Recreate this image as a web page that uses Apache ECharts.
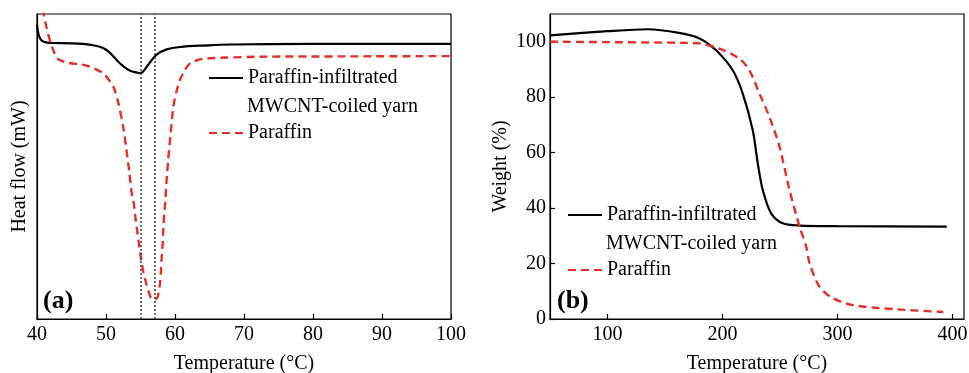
<!DOCTYPE html>
<html>
<head>
<meta charset="utf-8">
<script src="https://cdn.jsdelivr.net/npm/echarts@6/dist/echarts.min.js"></script>
<style>
  html, body { margin: 0; padding: 0; background: #fff; }
  #chart { width: 969px; height: 373px; }
</style>
</head>
<body>
<div id="chart"></div>
<script>
// (a) DSC 曲线
const dscYarn = [
  [40, 96.4], [40.2, 93.5], [40.5, 91.8], [41, 90.9], [42, 90.5], [45, 90.4], [47, 90.1],
  [48.5, 89.6], [49.5, 88.9], [50.5, 87.4], [51.5, 85.0], [52.5, 82.9], [53.5, 81.4], [54.5, 80.8], [55, 80.6],
  [55.9, 82.7], [57.3, 86.6], [58.8, 88.4], [61.2, 89.3], [63.6, 89.6], [68, 90.0], [80, 90.2], [100, 90.2]
]
const dscParaffin = [
  [40.7, 106], [41.0, 99.5], [41.4, 95.4], [42.0, 90.4], [42.9, 85.5], [44.3, 84.1], [46.5, 83.4],
  [47.7, 82.7], [49.6, 80.6], [51.06, 76.2], [51.8, 70.7], [52.5, 63.0], [52.9, 56.5], [53.4, 47.8],
  [53.72, 41.2], [54.06, 37.4], [54.3, 32.5], [54.54, 28.6], [54.83, 23.7], [55.07, 19.9], [55.4, 15.5],
  [55.9, 11.1], [56.48, 7.0], [56.86, 6.2], [57.2, 6.5], [57.49, 7.3], [57.83, 11.7], [57.97, 16.1],
  [58.07, 20.4], [58.22, 24.8], [58.3, 29.2], [58.45, 34.7], [58.6, 38.5], [58.7, 42.9], [58.84, 47.2],
  [59.0, 52], [59.28, 58.7], [59.75, 69.6], [60.2, 74.5], [60.72, 78.4], [61.4, 81.5], [62.17, 83.8],
  [63.4, 85.0], [65.07, 85.5], [72.3, 86.0], [85, 86.1], [100, 86.2]
]
const dscMarks = [55, 57] // 峰值位置虚线

// (b) TGA 曲线
const tgaYarn = [
  [50, 102.3], [100, 103.8], [135, 104.5], [162, 103.2], [180, 101.2], [194.4, 96.9], [208.9, 89.7],
  [217.6, 81.3], [226.3, 68.1], [230.7, 56.1], [235, 46.5], [242.3, 38.1], [252.4, 34.5], [267, 33.7],
  [300, 33.5], [395, 33.3]
]
const tgaParaffin = [
  [50, 100.0], [168, 99.6], [180, 99.4], [197.3, 97.5], [214.7, 93.9], [223.4, 89.7], [232.1, 81.3],
  [240.8, 72.9], [249.6, 62.1], [258.3, 46.5], [267, 33.3], [272.8, 26.1], [275.7, 20.1], [284.4, 11.6],
  [296, 7.5], [313.4, 5.0], [351.2, 3.5], [389, 2.6], [392, 2.5]
]
const tgaXTicks = [100, 200, 300, 400]
const tgaYTicks = [0, 20, 40, 60, 80, 100]

const FONT = 'Liberation Serif'
const RED = '#e5302a'
const tickTxt = { fontFamily: FONT, fontSize: 20, color: '#000' }
const titleTxt = { fontFamily: FONT, fontSize: 20, color: '#000' }

const chart = echarts.init(document.getElementById('chart'))

const axisLine = { show: true, lineStyle: { color: '#000', width: 1.2 } }
const tick = { show: true, inside: true, length: 5, lineStyle: { color: '#000', width: 1.2 } }
const legendBase = {
  orient: 'vertical', padding: 0, itemWidth: 34, itemHeight: 20, itemGap: 35,
  itemStyle: { opacity: 0 },
  textStyle: Object.assign({ lineHeight: 20, padding: [0, 0, 0, 0] }, titleTxt),
  data: ['Paraffin-infiltrated', 'Paraffin']
}

chart.setOption({
  animation: false,
  backgroundColor: '#fff',
  grid: [
    { left: 37, right: 518, top: 14, bottom: 54, outerBoundsMode: 'none', containLabel: false,
      show: true, borderColor: '#000', borderWidth: 1.2 },
    { left: 550, right: 5, top: 14, bottom: 54, outerBoundsMode: 'none', containLabel: false,
      show: true, borderColor: '#000', borderWidth: 1.2 }
  ],
  xAxis: [
    {
      gridIndex: 0, type: 'value', min: 40, max: 100, interval: 10,
      name: 'Temperature (°C)', nameLocation: 'middle', nameGap: 35, nameTextStyle: titleTxt,
      axisLine: axisLine, axisTick: tick, splitLine: { show: false },
      axisLabel: Object.assign({ margin: 6 }, tickTxt)
    },
    {
      gridIndex: 1, type: 'value', min: 50, max: 410,
      name: 'Temperature (°C)', nameLocation: 'middle', nameGap: 35, nameTextStyle: titleTxt,
      axisLine: axisLine, splitLine: { show: false },
      axisTick: Object.assign({ customValues: tgaXTicks }, tick),
      axisLabel: Object.assign({ margin: 6, customValues: tgaXTicks }, tickTxt)
    }
  ],
  yAxis: [
    {
      gridIndex: 0, type: 'value', min: 0, max: 100,
      name: 'Heat flow (mW)', nameLocation: 'middle', nameGap: 7, nameRotate: 90, nameTextStyle: titleTxt,
      axisLine: axisLine, axisTick: { show: false }, axisLabel: { show: false }, splitLine: { show: false }
    },
    {
      gridIndex: 1, type: 'value', min: 0, max: 110,
      name: 'Weight (%)', nameLocation: 'middle', nameGap: 39, nameRotate: 90, nameTextStyle: titleTxt,
      axisLine: axisLine, splitLine: { show: false },
      axisTick: Object.assign({ customValues: tgaYTicks }, tick),
      axisLabel: Object.assign({ margin: 4, customValues: tgaYTicks }, tickTxt)
    }
  ],
  legend: [
    Object.assign({ left: 208, top: 68 }, legendBase),
    Object.assign({ left: 567, top: 205 }, legendBase)
  ],
  graphic: [
    { type: 'text', x: 247, y: 107, style: { text: 'MWCNT-coiled yarn', fill: '#000', font: '20px "' + FONT + '"', verticalAlign: 'middle' } },
    { type: 'text', x: 606, y: 244, style: { text: 'MWCNT-coiled yarn', fill: '#000', font: '20px "' + FONT + '"', verticalAlign: 'middle' } },
    { type: 'text', x: 43, y: 301, style: { text: '(a)', fill: '#000', font: 'bold 26px "' + FONT + '"', verticalAlign: 'middle' } },
    { type: 'text', x: 557, y: 301, style: { text: '(b)', fill: '#000', font: 'bold 26px "' + FONT + '"', verticalAlign: 'middle' } }
  ],
  series: [
    {
      name: 'Paraffin-infiltrated', type: 'line', xAxisIndex: 0, yAxisIndex: 0,
      data: dscYarn, symbol: 'none', smooth: 0.4,
      lineStyle: { color: '#000', width: 2.2 }, itemStyle: { color: '#000' },
      markLine: {
        silent: true, symbol: 'none', label: { show: false },
        lineStyle: { color: '#444', width: 1.5, type: [2, 2] },
        data: dscMarks.map(v => ({ xAxis: v }))
      }
    },
    {
      name: 'Paraffin', type: 'line', xAxisIndex: 0, yAxisIndex: 0,
      data: dscParaffin, symbol: 'none', smooth: 0.2, clip: true,
      lineStyle: { color: RED, width: 2.4, type: [8, 5] }, itemStyle: { color: RED }
    },
    {
      name: 'Paraffin-infiltrated', type: 'line', xAxisIndex: 1, yAxisIndex: 1,
      data: tgaYarn, symbol: 'none', smooth: 0.3,
      lineStyle: { color: '#000', width: 2.2 }, itemStyle: { color: '#000' }
    },
    {
      name: 'Paraffin', type: 'line', xAxisIndex: 1, yAxisIndex: 1,
      data: tgaParaffin, symbol: 'none', smooth: 0.3,
      lineStyle: { color: RED, width: 2.4, type: [8, 5] }, itemStyle: { color: RED }
    }
  ]
})
</script>
</body>
</html>
